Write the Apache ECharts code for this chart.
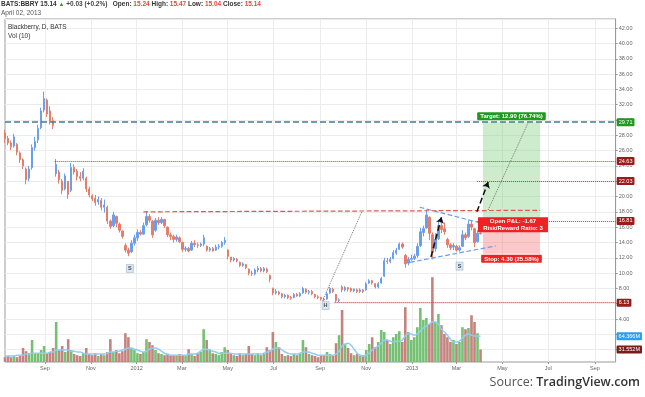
<!DOCTYPE html>
<html>
<head>
<meta charset="utf-8">
<script src="https://cdn.jsdelivr.net/npm/echarts@6/dist/echarts.min.js"></script>
<style>
  html, body { margin: 0; padding: 0; background: #fff; }
  #chart { width: 645px; height: 397px; }
</style>
</head>
<body>
<div id="chart"></div>
<script>
// 日期（每根约4天）
const dates = [
  '2011-07-10','2011-07-14','2011-07-18','2011-07-22','2011-07-26','2011-07-30','2011-08-03','2011-08-07','2011-08-11','2011-08-15',
  '2011-08-19','2011-08-23','2011-08-27','2011-08-31','2011-09-04','2011-09-08','2011-09-12','2011-09-16','2011-09-20','2011-09-24',
  '2011-09-28','2011-10-02','2011-10-06','2011-10-10','2011-10-14','2011-10-18','2011-10-22','2011-10-26','2011-10-30','2011-11-03',
  '2011-11-07','2011-11-11','2011-11-15','2011-11-19','2011-11-23','2011-11-27','2011-12-01','2011-12-05','2011-12-09','2011-12-13',
  '2011-12-17','2011-12-21','2011-12-25','2011-12-29','2012-01-02','2012-01-06','2012-01-10','2012-01-14','2012-01-18','2012-01-22',
  '2012-01-26','2012-01-30','2012-02-03','2012-02-07','2012-02-11','2012-02-15','2012-02-19','2012-02-23','2012-02-27','2012-03-02',
  '2012-03-06','2012-03-10','2012-03-14','2012-03-18','2012-03-22','2012-03-26','2012-03-30','2012-04-03','2012-04-07','2012-04-11',
  '2012-04-15','2012-04-19','2012-04-23','2012-04-27','2012-05-01','2012-05-05','2012-05-09','2012-05-13','2012-05-17','2012-05-21',
  '2012-05-25','2012-05-29','2012-06-02','2012-06-06','2012-06-10','2012-06-14','2012-06-18','2012-06-22','2012-06-26','2012-06-30',
  '2012-07-04','2012-07-08','2012-07-12','2012-07-16','2012-07-20','2012-07-24','2012-07-28','2012-08-01','2012-08-05','2012-08-09',
  '2012-08-13','2012-08-17','2012-08-21','2012-08-25','2012-08-29','2012-09-02','2012-09-06','2012-09-10','2012-09-14','2012-09-18',
  '2012-09-22','2012-09-26','2012-09-30','2012-10-04','2012-10-08','2012-10-12','2012-10-16','2012-10-20','2012-10-24','2012-10-28',
  '2012-11-01','2012-11-05','2012-11-09','2012-11-13','2012-11-17','2012-11-21','2012-11-25','2012-11-29','2012-12-03','2012-12-07',
  '2012-12-11','2012-12-15','2012-12-19','2012-12-23','2012-12-27','2012-12-31','2013-01-04','2013-01-08','2013-01-12','2013-01-16',
  '2013-01-20','2013-01-24','2013-01-28','2013-02-01','2013-02-05','2013-02-09','2013-02-13','2013-02-17','2013-02-21','2013-02-25',
  '2013-03-01','2013-03-05','2013-03-09','2013-03-13','2013-03-17','2013-03-21','2013-03-25','2013-03-29','2013-04-02'
]
// [开, 收, 低, 高]
const ohlc = [
  [28.3,27.6,27.0,28.7],[27.6,27.0,26.7,27.9],[27.0,26.5,26.1,27.3],[26.6,27.8,26.4,28.2],[26.8,25.8,25.4,27.0],
  [25.7,24.8,24.4,25.9],[24.8,24.0,23.6,25.0],[23.6,22.2,21.6,23.8],[22.4,23.6,22.0,24.0],[23.8,26.4,23.5,26.8],
  [26.4,27.2,26.0,27.8],[27.4,28.9,27.0,29.4],[29.0,31.2,28.8,31.6],[31.3,32.8,31.0,33.7],[32.6,30.8,30.4,32.8],
  [31.2,29.8,29.4,31.8],[29.9,29.3,28.8,30.4],[23.0,24.2,22.6,24.9],[23.2,22.2,21.7,23.5],[22.0,20.8,20.3,22.3],
  [21.0,22.7,20.8,23.0],[22.0,20.3,19.7,22.0],[20.8,23.8,20.6,24.4],[23.8,23.2,22.9,24.2],[23.3,22.6,22.1,23.6],
  [22.6,22.4,22.0,23.2],[22.4,23.3,22.1,23.7],[22.4,21.0,20.6,22.6],[21.0,20.2,19.9,21.3],[20.1,19.7,19.4,20.3],
  [19.8,19.2,18.8,20.2],[19.3,19.6,18.9,20.0],[19.5,18.6,18.2,19.8],[18.6,18.9,17.9,19.6],[18.6,16.8,16.4,18.8],
  [16.8,16.1,15.8,17.0],[16.2,17.6,16.0,18.0],[17.4,16.5,16.0,17.5],[16.4,15.6,15.3,16.6],[15.5,14.8,14.5,15.6],
  [13.6,13.0,12.7,13.9],[13.0,12.6,12.2,13.3],[12.8,13.9,12.6,14.3],[13.9,14.6,13.6,15.0],[14.6,15.3,14.2,15.7],
  [15.3,15.1,14.9,15.6],[15.1,16.2,15.0,16.6],[16.3,17.4,16.1,18.1],[17.4,16.9,16.6,17.7],[16.8,15.0,14.6,16.9],
  [15.6,16.9,15.4,17.2],[16.9,16.6,16.3,17.3],[16.6,17.0,16.4,17.3],[17.0,16.2,15.9,17.1],[16.0,15.0,14.7,16.1],
  [15.0,14.8,14.3,15.3],[14.8,14.4,14.0,15.0],[14.4,14.7,14.1,15.0],[14.6,14.1,13.9,14.8],[14.0,13.1,12.8,14.1],
  [13.1,13.2,12.8,13.5],[13.2,12.9,12.7,13.4],[13.0,13.9,12.9,14.2],[13.9,13.7,13.4,14.3],[13.7,13.6,13.3,14.0],
  [13.6,13.8,13.4,14.0],[13.8,14.6,13.5,15.0],[13.5,13.0,12.8,13.6],[13.0,13.2,12.8,13.4],[13.2,12.9,12.8,13.4],
  [13.0,13.4,12.9,13.7],[13.4,13.5,13.1,13.8],[13.5,14.0,13.3,14.2],[14.0,14.3,13.7,14.7],[13.0,12.2,11.8,13.1],
  [12.1,11.7,11.4,12.1],[11.7,11.9,11.5,12.1],[11.8,11.6,11.4,12.0],[11.4,11.0,10.8,11.5],[11.0,11.2,10.8,11.4],
  [11.1,10.7,10.5,11.2],[10.5,10.0,9.7,10.6],[10.0,9.9,9.6,10.3],[9.9,10.4,9.7,10.6],[10.4,10.6,10.1,10.9],
  [10.6,10.3,10.1,10.8],[10.3,10.6,10.1,10.8],[10.5,10.2,10.0,10.7],[9.7,9.2,8.8,9.8],[8.0,7.4,7.1,8.1],
  [7.4,7.6,7.2,7.9],[7.5,7.3,7.1,7.7],[7.3,6.9,6.7,7.4],[6.9,7.1,6.7,7.3],[7.1,6.8,6.6,7.2],
  [6.8,6.7,6.5,7.0],[6.8,7.2,6.7,7.4],[7.2,7.0,6.9,7.4],[7.0,7.3,6.9,7.5],[7.4,8.0,7.3,8.2],
  [7.9,7.5,7.3,8.0],[7.5,7.6,7.2,7.8],[7.6,7.3,7.1,7.8],[7.2,6.9,6.7,7.3],[6.9,6.8,6.6,7.1],
  [6.8,6.6,6.4,6.9],[6.6,6.5,6.3,6.8],[6.6,7.3,6.5,7.5],[7.4,8.0,7.3,8.2],[7.9,7.6,7.4,8.1],
  [7.2,6.4,6.2,7.3],[6.4,6.5,6.2,6.7],[8.2,7.8,7.5,8.4],[7.8,8.1,7.6,8.3],[8.1,7.9,7.6,8.2],
  [8.0,7.7,7.5,8.1],[7.7,7.9,7.5,8.0],[7.8,7.6,7.4,8.0],[7.6,7.8,7.4,8.0],[7.8,7.6,7.4,7.9],
  [7.8,8.6,7.7,8.8],[8.7,9.0,8.6,9.2],[9.0,8.7,8.5,9.1],[8.6,8.2,8.0,8.7],[8.2,8.6,8.0,8.8],
  [8.7,9.3,8.6,9.5],[9.6,11.6,9.5,12.0],[11.6,11.5,11.2,12.0],[11.5,11.8,11.3,12.1],[11.9,12.7,11.8,13.0],
  [12.6,13.0,12.4,13.3],[13.1,13.8,13.0,14.0],[13.8,13.4,13.2,14.0],[12.3,11.2,10.7,12.5],[11.3,11.8,11.0,12.1],
  [11.8,11.9,11.6,12.4],[11.9,12.2,11.7,12.5],[12.3,13.5,12.0,13.9],[13.6,15.4,13.4,15.9],[15.3,15.8,14.8,16.2],
  [15.9,17.6,15.8,18.3],[17.3,15.2,14.3,17.4],[15.0,12.7,11.8,15.3],[13.2,14.4,12.8,15.2],[14.5,16.2,14.3,16.8],
  [16.2,15.7,15.2,16.9],[15.8,15.4,15.0,16.6],[14.4,13.7,13.3,14.6],[13.7,13.3,13.0,13.9],[13.4,13.6,13.0,13.9],
  [13.5,13.0,12.8,13.7],[13.0,13.3,12.8,13.6],[13.5,15.0,13.4,15.6],[15.0,14.6,14.3,15.3],[14.8,16.4,14.6,16.9],
  [16.4,16.0,15.6,16.8],[15.8,14.0,13.4,15.9],[14.1,15.2,14.0,15.6],[15.24,15.14,15.04,15.47]
]
// 成交量（百万）
const volumes = [
  12,15,12,15,12,15,35,27,22,55, 22,20,30,40,22,25,35,100,30,40,
  25,57,30,20,17,15,22,35,20,17, 22,15,20,17,25,57,25,30,22,27,
  72,62,35,30,22,20,25,57,50,42, 30,22,20,17,20,15,17,15,20,17,
  15,32,20,15,22,25,82,55,32,22, 20,17,25,37,30,20,17,15,22,17,
  20,40,20,17,22,17,20,37,30,75, 50,37,20,15,17,15,20,17,22,55,
  37,20,17,15,12,15,17,25,20,15, 47,67,130,45,35,22,17,20,15,17,
  30,45,62,37,50,80,75,55,45,62, 70,77,50,137,75,55,62,87,135,105,
  110,95,212,100,120,92,70,62,50,55, 45,50,87,82,85,117,100,72,31.552
]
// Vol (10) 均线
const volMA = [
  15,15,15,15,17,17,17,20,20,22, 22,22,22,22,22,25,25,30,30,30,
  30,30,27,27,25,25,22,20,20,20, 20,20,20,20,22,25,25,27,27,30,
  32,35,35,32,30,27,25,27,32,35, 35,32,27,22,20,17,17,17,17,17,
  17,20,20,20,22,27,32,32,30,27, 25,22,22,22,22,22,20,20,20,20,
  20,20,20,20,20,20,22,25,27,32, 35,35,30,25,22,20,20,20,22,25,
  25,25,22,20,17,17,17,17,17,17, 20,27,40,45,47,42,32,22,17,15,
  17,22,30,35,40,47,55,55,52,50, 52,52,55,65,72,70,67,70,77,85,
  90,95,100,100,95,82,75,67,57,50, 50,52,60,67,70,67,65,65,64.366
]
const monthTicks = ['2011-09-01','2011-11-01','2012-01-01','2012-03-01','2012-05-01','2012-07-01',
  '2012-09-01','2012-11-01','2013-01-01','2013-03-01','2013-05-01','2013-07-01','2013-09-01']
const monthLabels = ['Sep','Nov','2012','Mar','May','Jul','Sep','Nov','2013','Mar','May','Jul','Sep']

// 画线工具的价位
const target = 29.71
const entry = 16.81
const stop = 12.51
const lastPrice = 15.14
const resistance = [24.63, 22.03]
const support = 6.13
// 右侧成交量标签
const volTags = [31.552, 64.366]

const ts = (s) => {
  const p = s.split('-').map(Number)
  return Date.UTC(p[0], p[1] - 1, p[2])
}
const xMin = ts('2011-07-10')
const xMax = ts('2013-09-28') + 43200000
const tickVals = monthTicks.map(ts)

const upColor = '#6a9ff0'
const downColor = '#e47d6a'
const font = 'Liberation Sans'

const tag = (text, bg) => ({
  show: true,
  position: 'end',
  distance: 1,
  formatter: text,
  color: '#fff',
  fontSize: 5.5,
  fontFamily: font,
  backgroundColor: bg,
  padding: [1, 2, 1, 2],
  borderRadius: 1
})
const tagRich = (bg) => ({
  color: '#fff', fontSize: 5.5, fontFamily: font,
  backgroundColor: bg, padding: [1, 2, 1, 2], borderRadius: 1
})
const noLabel = { show: false }
const dotted = (c) => ({ color: c, type: 'dotted', width: 1, opacity: 1 })
const hidden = { opacity: 0 }

const candleData = dates.map((d, i) => [ts(d)].concat(ohlc[i]))
const volData = dates.map((d, i) => ({
  value: [ts(d), volumes[i]],
  itemStyle: { color: ohlc[i][1] >= ohlc[i][0] ? '#74c174' : '#c4837e' }
}))
const maData = dates.map((d, i) => [ts(d), volMA[i]])

const chart = echarts.init(document.getElementById('chart'))
const option = {
  animation: false,
  backgroundColor: '#fff',
  title: [{
    left: 1,
    top: 1,
    padding: 0,
    text: '{b|BATS:BBRY 15.14} {g|▲} {n|+0.03 (+0.2%)}   {b|Open:} {r|15.24} {b|High:} {r|15.47} {b|Low:} {r|15.04} {b|Close:} {r|15.14}',
    subtext: 'April 02, 2013',
    itemGap: 2,
    textStyle: {
      fontSize: 6.5,
      fontFamily: font,
      rich: {
        b: { fontSize: 6.5, fontFamily: font, color: '#333', fontWeight: 'bold' },
        n: { fontSize: 6.5, fontFamily: font, color: '#444' },
        g: { fontSize: 6, fontFamily: font, color: '#2e9e2e' },
        r: { fontSize: 6.5, fontFamily: font, color: '#e2473b' }
      }
    },
    subtextStyle: { fontSize: 6.5, fontFamily: font, color: '#555' }
  }],
  graphic: [
    { type: 'text', left: 8, top: 24, z: 50, style: { text: 'Blackberry, D, BATS', fontSize: 6.5, fontFamily: font, fill: '#333' } },
    { type: 'text', left: 8, top: 33, z: 50, style: { text: 'Vol (10)', fontSize: 6.5, fontFamily: font, fill: '#333' } },
    {
      type: 'text', right: 5, top: 376, z: 50,
      style: {
        text: '{a|Source: }{b|TradingView.com}',
        rich: {
          a: { fontSize: 12.5, fontFamily: 'Open Sans', fill: '#555' },
          b: { fontSize: 12.5, fontFamily: 'Open Sans', fontWeight: 600, fill: '#333' }
        }
      }
    }
  ],
  grid: [
    { left: 5, right: 29.3, top: 19, bottom: 47.4 },
    { left: 5, right: 29.3, top: 19, bottom: 35, show: true, borderColor: '#9a9a9a', borderWidth: 1 }
  ],
  xAxis: [
    { type: 'value', gridIndex: 0, min: xMin, max: xMax, show: false },
    {
      type: 'value', gridIndex: 1, min: xMin, max: xMax,
      axisLine: { show: false },
      axisTick: { show: true, length: 2, customValues: tickVals, lineStyle: { color: '#999' } },
      axisLabel: {
        customValues: tickVals,
        fontSize: 5.5, fontFamily: font, color: '#666', margin: 3,
        formatter: (v) => {
          const k = tickVals.findIndex((t) => Math.abs(t - v) < 86400000)
          return k >= 0 ? monthLabels[k] : ''
        }
      },
      splitLine: { show: true, lineStyle: { color: '#ececec' } }
    }
  ],
  yAxis: [
    {
      type: 'value', gridIndex: 0, position: 'right',
      min: 0, max: 43.2, interval: 2,
      axisLine: { show: true, lineStyle: { color: '#999' } },
      axisTick: { show: true, length: 2, lineStyle: { color: '#999' } },
      axisLabel: {
        fontSize: 5.5, fontFamily: font, color: '#666', margin: 3,
        showMaxLabel: false,
        formatter: (v) => (v < 4 ? '' : v.toFixed(2))
      },
      splitLine: { show: true, lineStyle: { color: '#ececec' } }
    },
    { type: 'value', gridIndex: 1, min: 0, max: 857.5, show: false },
    {
      // 成交量的当前值标签
      type: 'value', gridIndex: 1, min: 0, max: 857.5, position: 'right',
      axisLine: { show: false },
      axisTick: { show: false },
      splitLine: { show: false },
      axisLabel: {
        customValues: volTags,
        margin: 1,
        formatter: (v) => (Math.abs(v - volTags[1]) < 0.01 ? '{ma|' + volTags[1] + 'M}' : '{v|' + volTags[0] + 'M}'),
        rich: { ma: tagRich('#2a9df4'), v: tagRich('#7d1a1a') }
      }
    }
  ],
  series: [
    {
      name: 'BBRY',
      type: 'candlestick',
      xAxisIndex: 0,
      yAxisIndex: 0,
      barWidth: 1.8,
      z: 3,
      itemStyle: {
        color: upColor, color0: downColor,
        borderColor: upColor, borderColor0: downColor,
        borderWidth: 1
      },
      data: candleData,
      markArea: {
        silent: true,
        data: [
          [{
            coord: [ts('2013-04-05'), target],
            itemStyle: { color: 'rgba(120,205,120,0.38)' },
            label: {
              show: true, position: 'top', distance: 2,
              formatter: 'Target: 12.90 (76.74%)',
              color: '#fff', fontSize: 6, fontWeight: 'bold', fontFamily: font,
              backgroundColor: '#1f9a1f', padding: [1, 3, 1, 3], borderRadius: 1
            }
          }, { coord: [ts('2013-06-20'), entry] }],
          [{
            coord: [ts('2013-04-05'), entry],
            itemStyle: { color: 'rgba(245,120,120,0.4)' },
            label: {
              show: true, position: 'bottom', distance: 1,
              formatter: 'Stop: 4.30 (25.58%)',
              color: '#fff', fontSize: 6, fontWeight: 'bold', fontFamily: font,
              backgroundColor: '#ee2222', padding: [1, 3, 1, 3], borderRadius: 1
            }
          }, { coord: [ts('2013-06-20'), stop] }]
        ]
      },
      markPoint: {
        silent: true,
        data: [
          { name: 'S', coord: [ts('2011-12-23'), 10.6] },
          { name: 'H', coord: [ts('2012-09-08'), 5.75] },
          { name: 'S', coord: [ts('2013-03-05'), 10.9] },
          {
            name: 'pnl', coord: [ts('2013-05-15'), 16.3],
            symbol: 'rect', symbolSize: [70, 15],
            itemStyle: { color: '#ee2222', borderWidth: 0 },
            label: {
              show: true, position: 'inside',
              formatter: 'Open P&L: -1.67\nRisk/Reward Ratio: 3',
              color: '#fff', fontSize: 6, fontWeight: 'bold', lineHeight: 7, fontFamily: font
            }
          }
        ],
        symbol: 'rect',
        symbolSize: [7, 8],
        itemStyle: { color: '#dce7f1', borderColor: '#93aabd', borderWidth: 0.5 },
        label: { show: true, position: 'inside', formatter: '{b}', fontSize: 5.5, fontWeight: 'bold', color: '#3a4b5c', fontFamily: font }
      },
      markLine: {
        silent: true,
        symbol: 'none',
        label: noLabel,
        data: [
          { yAxis: target, lineStyle: { color: '#3f7f8e', type: 'dashed', width: 1.5 }, label: tag(String(target), '#1f9a1f') },
          [{ coord: [ts('2011-09-14'), resistance[0]], lineStyle: dotted('#c0392b'), label: tag(String(resistance[0]), '#9b1b1b') },
            { coord: [xMax, resistance[0]] }],
          [{ coord: [ts('2013-03-28'), resistance[1]], lineStyle: dotted('#c0392b'), label: tag(String(resistance[1]), '#9b1b1b') },
            { coord: [xMax, resistance[1]] }],
          [{ coord: [ts('2013-03-28'), entry], lineStyle: dotted('#c0392b'), label: tag(String(entry), '#9b1b1b') },
            { coord: [xMax, entry] }],
          [{ coord: [ts('2012-09-20'), support], lineStyle: dotted('#c0392b'), label: tag(String(support), '#9b1b1b') },
            { coord: [xMax, support] }],
          { yAxis: lastPrice, lineStyle: hidden, label: tag(String(lastPrice), '#e2705e') },
          { yAxis: stop, lineStyle: hidden, label: tag(String(stop), '#f21616') },
          // 颈线
          [{ coord: [ts('2012-01-10'), 18.0], lineStyle: { color: '#e0584b', type: 'dashed', width: 1.2 } },
            { coord: [ts('2013-06-20'), 18.2] }],
          // 头到颈线的量度线
          [{ coord: [ts('2012-09-04'), 6.4], lineStyle: { color: '#777', type: 'dotted', width: 1 } },
            { coord: [ts('2012-10-26'), 18.0] }],
          [{ coord: [ts('2013-04-12'), 18.25], lineStyle: { color: '#777', type: 'dotted', width: 1 } },
            { coord: [ts('2013-06-04'), 29.6] }],
          // 三角形
          [{ coord: [ts('2013-01-11'), 18.6], lineStyle: { color: '#6a9fe6', type: 'dashed', width: 1.2 } },
            { coord: [ts('2013-03-31'), 16.6] }],
          [{ coord: [ts('2012-12-29'), 11.4], lineStyle: { color: '#6a9fe6', type: 'dashed', width: 1.2 } },
            { coord: [ts('2013-04-22'), 13.55] }],
          // 箭头
          [{ coord: [ts('2013-01-26'), 12.1], lineStyle: { color: '#111', type: 'dashed', width: 1.5 } },
            { coord: [ts('2013-02-09'), 17.3], symbol: 'arrow', symbolSize: 6 }],
          [{ coord: [ts('2013-03-28'), 18.0], lineStyle: { color: '#111', type: 'dashed', width: 1.5 } },
            { coord: [ts('2013-04-12'), 21.9], symbol: 'arrow', symbolSize: 6 }]
        ]
      }
    },
    {
      name: 'Vol',
      type: 'bar',
      xAxisIndex: 1,
      yAxisIndex: 1,
      barWidth: 2.6,
      data: volData,
      z: 1
    },
    {
      name: 'Vol (10)',
      type: 'line',
      xAxisIndex: 1,
      yAxisIndex: 1,
      smooth: 0.3,
      showSymbol: false,
      lineStyle: { color: '#8fcdf5', width: 1.5 },
      data: maData,
      z: 2
    }
  ]
}
chart.setOption(option)
</script>
</body>
</html>
